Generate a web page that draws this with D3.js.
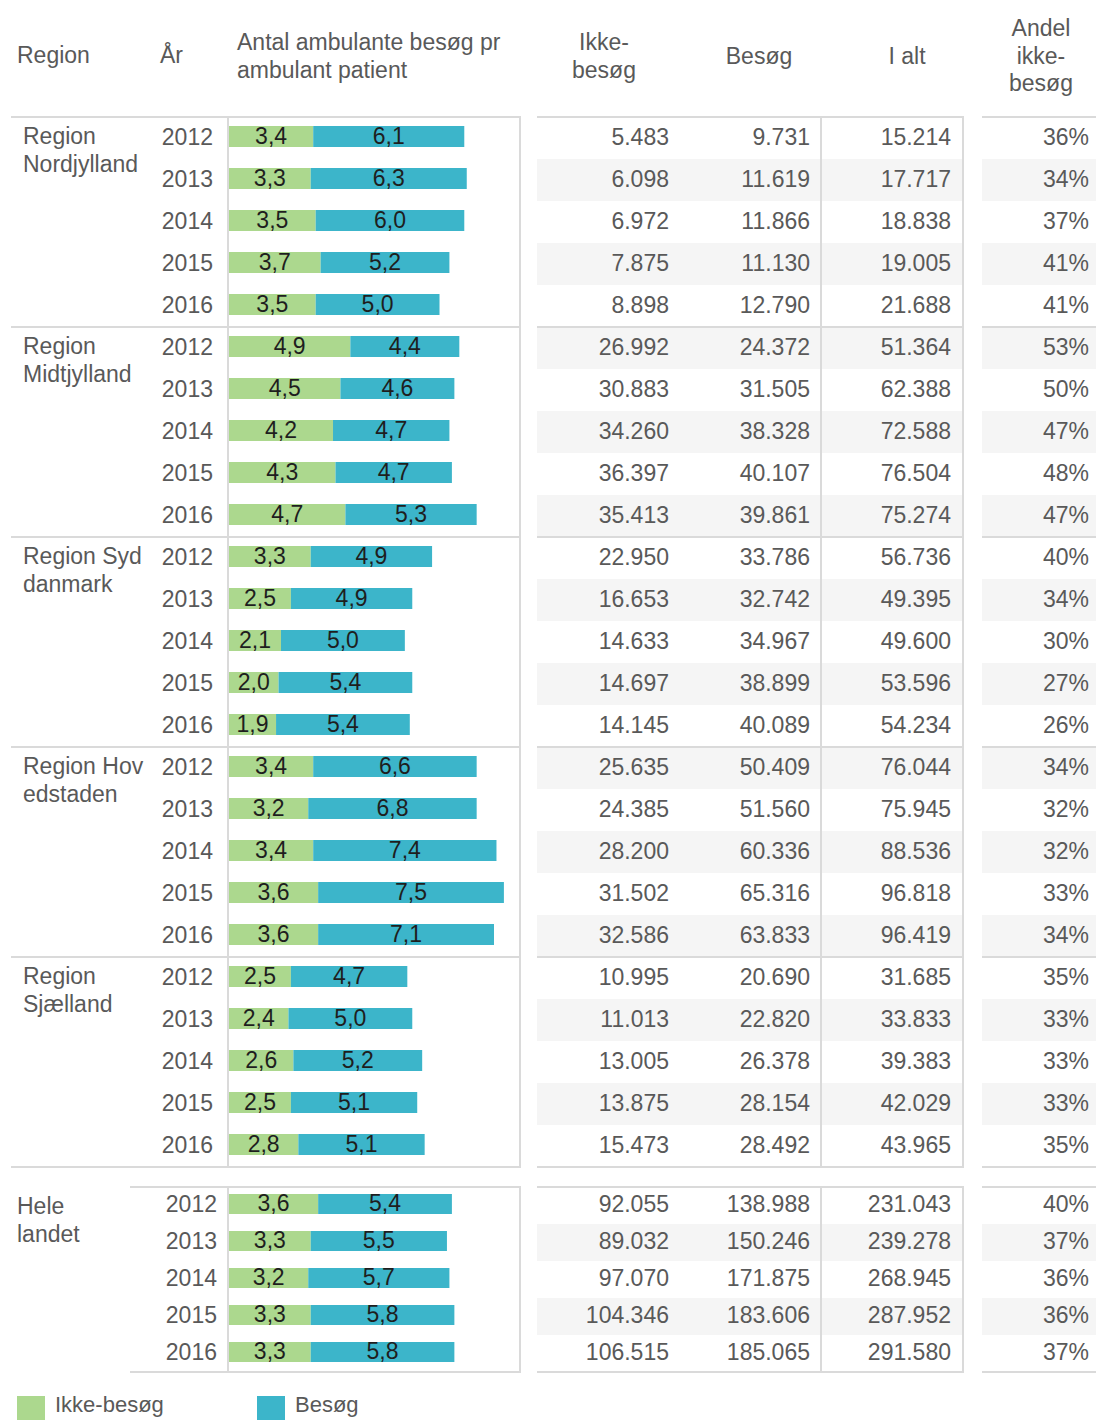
<!DOCTYPE html>
<html>
<head>
<meta charset="utf-8">
<script src="https://cdn.jsdelivr.net/npm/d3@7"></script>
<style>
body{margin:0;background:#fff;}
svg text{font-family:"Liberation Sans",Arial,sans-serif;}
</style>
</head>
<body>
<div id="chart"></div>
<script>
// data
var regionNames = [["Region","Nordjylland"],["Region","Midtjylland"],["Region Syd","danmark"],["Region Hov","edstaden"],["Region","Sjælland"],["Hele","landet"]];
var years = [2012,2013,2014,2015,2016];
var ikkeRate = [
	[3.4,3.3,3.5,3.7,3.5],
	[4.9,4.5,4.2,4.3,4.7],
	[3.3,2.5,2.1,2.0,1.9],
	[3.4,3.2,3.4,3.6,3.6],
	[2.5,2.4,2.6,2.5,2.8],
	[3.6,3.3,3.2,3.3,3.3]
];
var besogRate = [
	[6.1,6.3,6.0,5.2,5.0],
	[4.4,4.6,4.7,4.7,5.3],
	[4.9,4.9,5.0,5.4,5.4],
	[6.6,6.8,7.4,7.5,7.1],
	[4.7,5.0,5.2,5.1,5.1],
	[5.4,5.5,5.7,5.8,5.8]
];
var ikkeCount = [
	[5483,6098,6972,7875,8898],
	[26992,30883,34260,36397,35413],
	[22950,16653,14633,14697,14145],
	[25635,24385,28200,31502,32586],
	[10995,11013,13005,13875,15473],
	[92055,89032,97070,104346,106515]
];
var besogCount = [
	[9731,11619,11866,11130,12790],
	[24372,31505,38328,40107,39861],
	[33786,32742,34967,38899,40089],
	[50409,51560,60336,65316,63833],
	[20690,22820,26378,28154,28492],
	[138988,150246,171875,183606,185065]
];
var totalCount = [
	[15214,17717,18838,19005,21688],
	[51364,62388,72588,76504,75274],
	[56736,49395,49600,53596,54234],
	[76044,75945,88536,96818,96419],
	[31685,33833,39383,42029,43965],
	[231043,239278,268945,287952,291580]
];
var andelPct = [
	[36,34,37,41,41],
	[53,50,47,48,47],
	[40,34,30,27,26],
	[34,32,32,33,34],
	[35,33,33,33,35],
	[40,37,36,36,37]
];
var legendNames = ["Ikke-besøg","Besøg"];

var W = 1096, H = 1420;
var green = "#acd88e", blue = "#3cb5ca";
var lineCol = "#dadada", txtCol = "#595959", stripeCol = "#f5f5f5";
var fs = 23;

var da = d3.formatLocale({decimal:",",thousands:".",grouping:[3],currency:["","kr"]});
var fmtInt = da.format(",d");
var fmtDec = da.format(".1f");

var svg = d3.select("#chart").append("svg")
	.attr("width",W).attr("height",H)
	.style("display","block");

var xBar = d3.scaleLinear().domain([0,11.75]).range([229,520]);

function txt(g,x,y,s,anchor,fill){
	return g.append("text")
		.attr("x",x).attr("y",y)
		.attr("dy","0.35em")
		.attr("text-anchor",anchor || "start")
		.style("font-size",fs+"px")
		.style("fill",fill || txtCol)
		.text(s);
}
function line(x1,y1,x2,y2){
	svg.append("line")
		.attr("x1",x1).attr("y1",y1).attr("x2",x2).attr("y2",y2)
		.style("stroke",lineCol).style("stroke-width",2);
}

// header
var hd = svg.append("g");
txt(hd,17,55,"Region");
txt(hd,160,55,"År");
txt(hd,237,42,"Antal ambulante besøg pr");
txt(hd,237,70,"ambulant patient");
txt(hd,604,42,"Ikke-","middle");
txt(hd,604,70,"besøg","middle");
txt(hd,759,56,"Besøg","middle");
txt(hd,907,56,"I alt","middle");
txt(hd,1041,28,"Andel","middle");
txt(hd,1041,56,"ikke-","middle");
txt(hd,1041,83,"besøg","middle");

// sections
var sections = regionNames.map(function(n,i){
	if(i < 5) return {top:117 + i*210, h:210, barOff:9, barH:21, yearX:213, nameX:23, nat:false};
	return {top:1187, h:185, barOff:7, barH:20, yearX:217, nameX:17, nat:true};
});

sections.forEach(function(sec,i){
	var y = d3.scaleBand().domain(years).range([sec.top, sec.top+sec.h]);
	var g = svg.append("g");
	var step = y.step();

	// stripes in number panels
	years.forEach(function(yr,j){
		var odd = sec.nat ? (j%2==1) : ((i*5+j)%2==1);
		if(!odd) return;
		g.append("rect").attr("x",537).attr("y",y(yr)).attr("width",426).attr("height",step).style("fill",stripeCol);
		g.append("rect").attr("x",982).attr("y",y(yr)).attr("width",W-982).attr("height",step).style("fill",stripeCol);
	});

	// region name
	txt(g,sec.nameX,sec.top+19,regionNames[i][0]);
	txt(g,sec.nameX,sec.top+47,regionNames[i][1]);

	years.forEach(function(yr,j){
		var cy = y(yr) + sec.barOff + sec.barH/2;
		txt(g,sec.yearX,cy,yr,"end");
		var a = ikkeRate[i][j], b = besogRate[i][j];
		g.append("rect").attr("x",xBar(0)).attr("y",y(yr)+sec.barOff)
			.attr("width",xBar(a)-xBar(0)).attr("height",sec.barH).style("fill",green);
		g.append("rect").attr("x",xBar(a)).attr("y",y(yr)+sec.barOff)
			.attr("width",xBar(a+b)-xBar(a)).attr("height",sec.barH).style("fill",blue);
		txt(g,(xBar(0)+xBar(a))/2,cy-1,fmtDec(a),"middle","#1e1e1e");
		txt(g,(xBar(a)+xBar(a+b))/2,cy-1,fmtDec(b),"middle","#1e1e1e");

		txt(g,669,cy,fmtInt(ikkeCount[i][j]),"end");
		txt(g,810,cy,fmtInt(besogCount[i][j]),"end");
		txt(g,951,cy,fmtInt(totalCount[i][j]),"end");
		txt(g,1089,cy,andelPct[i][j]+"%","end");
	});

	// grid lines
	var t = sec.top, b = sec.top+sec.h;
	var lx = sec.nat ? 130 : 11;
	line(lx,t,521,t);
	line(lx,b,521,b);
	line(228,t,228,b);
	line(520,t,520,b);
	line(537,t,964,t);
	line(537,b,964,b);
	line(821,t,821,b);
	line(963,t,963,b);
	line(982,t,W,t);
	line(982,b,W,b);
});

// legend (bottom edge clips it in the original; keep text just inside)
var lg = svg.append("g");
[green,blue].forEach(function(c,k){
	var x0 = k==0 ? 17 : 257;
	lg.append("rect").attr("x",x0).attr("y",1396).attr("width",28).attr("height",28).style("fill",c);
	txt(lg,x0+38,1404,legendNames[k]).style("font-size","22px");
});
</script>
</body>
</html>
